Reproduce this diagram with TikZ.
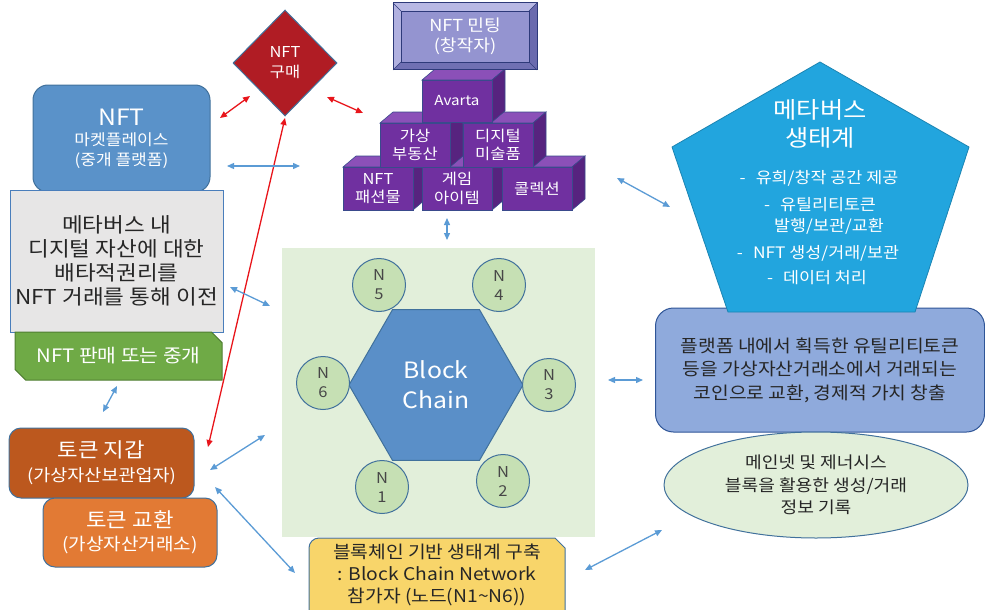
\documentclass[tikz,border=0pt]{standalone}
\usepackage{fontspec}
\setmainfont[FakeStretch=1.1]{Noto Sans CJK KR}
\usetikzlibrary{arrows.meta,shapes.geometric,shapes.misc}
\definecolor{arrblue}{HTML}{5B9BD5}
\definecolor{arrred}{HTML}{E8151B}
\definecolor{edgeblue}{HTML}{41719C}
\definecolor{mktblue}{HTML}{5A92C9}
\definecolor{grayfill}{HTML}{E7E6E6}
\definecolor{grayedge}{HTML}{4A7EBB}
\definecolor{greenfill}{HTML}{6FAA46}
\definecolor{greenedge}{HTML}{507E32}
\definecolor{walletfill}{HTML}{BC581E}
\definecolor{exchfill}{HTML}{E27A34}
\definecolor{pentfill}{HTML}{22A5DE}
\definecolor{platfill}{HTML}{8FAADC}
\definecolor{platedge}{HTML}{2F5597}
\definecolor{lightgreen}{HTML}{E2EFDA}
\definecolor{circfill}{HTML}{C6E0B4}
\definecolor{hexfill}{HTML}{5A8FC8}
\definecolor{yellowfill}{HTML}{F8D56A}
\definecolor{diamfill}{HTML}{B01C24}
\definecolor{cubefront}{HTML}{7030A0}
\definecolor{cubetop}{HTML}{8B50B8}
\definecolor{cubeside}{HTML}{57237F}
\definecolor{cubeedge}{HTML}{3A4A8C}
\definecolor{mintfill}{HTML}{9494D0}
\definecolor{mintlight}{HTML}{B8B8E4}
\definecolor{mintdark}{HTML}{6A6AAE}
\definecolor{mintedge}{HTML}{2E3A7A}
\definecolor{darktext}{HTML}{262626}
\newcommand{\fs}[2]{\fontsize{#1}{#2}\selectfont}
\newcommand{\mycube}[6]{%
  \filldraw[fill=cubetop,draw=cubeedge,line width=0.6pt] (#2,#3) -- ({#2+13},{#3-11}) -- ({#4+13},{#3-11}) -- (#4,#3) -- cycle;
  \filldraw[fill=cubeside,draw=cubeedge,line width=0.6pt] (#4,#3) -- ({#4+13},{#3-11}) -- ({#4+13},{#5-11}) -- (#4,#5) -- cycle;
  \node[cubebox, minimum width={#4-#2}, minimum height={#5-#3}] (#1) at ({(#2+#4)/2},{(#3+#5)/2}) {#6};
}
\begin{document}
\begin{tikzpicture}[x=1pt,y=-1pt,
  barrow/.style={draw=arrblue, line width=1.3pt, {Triangle[length=7pt,width=6pt]}-{Triangle[length=7pt,width=6pt]}},
  rarrow/.style={draw=arrred, line width=1.3pt, {Triangle[length=7pt,width=6pt]}-{Triangle[length=7pt,width=6pt]}},
  boxbase/.style={inner sep=0pt, align=center, line width=1pt},
  cubebox/.style={boxbase, fill=cubefront, draw=cubeedge, line width=0.6pt, text=white, font=\fs{15}{18.5}},
  nodecirc/.style={circle, fill=circfill, draw=edgeblue, line width=1pt, minimum size=53pt, inner sep=0pt, align=center, text=darktext!85, font=\fs{15}{19}},
  lbl/.style={inner sep=0pt, align=center}
]
\useasboundingbox (0,0) rectangle (985,610);

% background of network
\node[fill=lightgreen, minimum width=313pt, minimum height=289pt, inner sep=0pt] (bg) at (438.5,392.5) {};

% left column
\node[boxbase, fill=mktblue, draw=edgeblue, rounded corners=15pt, minimum width=177pt, minimum height=107pt, text=white, font=\fs{15.5}{20}] (mkt) at (121.5,138.5) {{\fs{22.5}{26}NFT}\\마켓플레이스\\(중개 플랫폼)};
\node[boxbase, fill=grayfill, draw=grayedge, minimum width=213pt, minimum height=142pt, text=darktext, font=\fs{20.5}{24}] (excl) at (116.5,261) {메타버스 내\\디지털 자산에 대한\\배타적권리를\\NFT 거래를 통해 이전};
\node[boxbase, chamfered rectangle, chamfered rectangle corners={north east,south west}, chamfered rectangle xsep=7pt, fill=greenfill, draw=greenedge, minimum width=207pt, minimum height=48pt, text=white, font=\fs{18.5}{22}] (sell) at (118.5,356) {NFT 판매 또는 중개};
\node[boxbase, fill=walletfill, draw=edgeblue, rounded corners=12pt, minimum width=185pt, minimum height=70pt, text=white, font=\fs{16.8}{24}] (wallet) at (101.5,463) {{\fs{20.3}{24}토큰 지갑}\\(가상자산보관업자)};
\node[boxbase, fill=exchfill, draw=edgeblue, rounded corners=12pt, minimum width=174pt, minimum height=69pt, text=white, font=\fs{17.3}{23}] (exch) at (130,532.5) {{\fs{20.3}{24}토큰 교환}\\(가상자산거래소)};

% diamond
\node[diamond, aspect=1, fill=diamfill, draw=edgeblue, line width=1pt, minimum width=104pt, minimum height=106pt, inner sep=0pt, align=center, text=white, font=\fs{15}{20}] (buy) at (285,63) {NFT\\구매};

% pyramid of cubes
\mycube{fashion}{343}{167}{413}{210}{NFT\\패션물}
\mycube{game}{422}{167}{492}{210}{게임\\아이템}
\mycube{coll}{502}{167}{572}{210}{콜렉션}
\mycube{realty}{380}{123}{450}{167}{가상\\부동산}
\mycube{art}{463}{123}{533}{167}{디지털\\미술품}
\mycube{avarta}{422}{80}{492}{122}{{\fs{13.8}{18}Avarta}}

% minting bevel box
\fill[mintlight] (393,3) -- (537,3) -- (529,11) -- (401,11) -- cycle;
\fill[mintlight!80!mintfill] (393,3) -- (401,11) -- (401,62) -- (393,70) -- cycle;
\fill[mintdark] (537,3) -- (537,70) -- (529,62) -- (529,11) -- cycle;
\fill[mintdark!85!mintfill] (393,70) -- (537,70) -- (529,62) -- (401,62) -- cycle;
\draw[mintedge, line width=0.6pt] (393,3) -- (401,11) (537,3) -- (529,11) (393,70) -- (401,62) (537,70) -- (529,62);
\node[boxbase, fill=mintfill, draw=mintedge, line width=0.6pt, minimum width=128pt, minimum height=51pt, text=white, font=\fs{16.5}{20}] (mint) at (465,36.5) {NFT 민팅\\(창작자)};
\draw[mintedge, line width=1pt] (393,3) rectangle (537,70);

% right side
\node[boxbase, fill=platfill, draw=platedge, rounded corners=18pt, minimum width=329pt, minimum height=124pt, text=darktext, font=\fs{17.5}{23.5}] (plat) at (820,370) {플랫폼 내에서 획득한 유틸리티토큰\\등을 가상자산거래소에서 거래되는\\코인으로 교환, 경제적 가치 창출};
\filldraw[fill=pentfill, draw=pentfill!80!black, line width=0.8pt] (820,62) -- (969,147) -- (915,312) -- (728,312) -- (672,147) -- cycle;
\node[lbl, text=white, font=\fs{23}{28}] (metatitle) at (820,124) {메타버스\\생태계};
\node[lbl, text=white, font=\fs{15.8}{18}] (m1) at (819,178) {-\hspace{10pt}유희/창작 공간 제공};
\node[lbl, text=white, font=\fs{15.8}{18}] (m2) at (820,205) {-\hspace{10pt}유틸리티토큰};
\node[lbl, text=white, font=\fs{15.8}{18}] (m3) at (829,226) {발행/보관/교환};
\node[lbl, text=white, font=\fs{15.8}{18}] (m4) at (818,253) {-\hspace{10pt}NFT 생성/거래/보관};
\node[lbl, text=white, font=\fs{15.8}{18}] (m5) at (817,278) {-\hspace{10pt}데이터 처리};
\node[ellipse, fill=lightgreen, draw=edgeblue, line width=1pt, minimum width=304pt, minimum height=106pt, inner sep=0pt, align=center, text=darktext, font=\fs{16.5}{22.5}] (main) at (816,485) {메인넷 및 제너시스\\블록을 활용한 생성/거래\\정보 기록};

% block chain network
\node[regular polygon, regular polygon sides=6, minimum size=174pt, inner sep=0pt, fill=hexfill, draw=edgeblue, line width=1pt, align=center, text=white, font=\fs{22.5}{30}] (bc) at (436,385) {Block\\Chain};
\node[nodecirc] (n5) at (379,285) {N\\5};
\node[nodecirc] (n4) at (499,285) {N\\4};
\node[nodecirc] (n6) at (323,383) {N\\6};
\node[nodecirc] (n3) at (549,385) {N\\3};
\node[nodecirc] (n1) at (382,487) {N\\1};
\node[nodecirc] (n2) at (503,481) {N\\2};

% yellow participant box
\filldraw[fill=yellowfill, draw=edgeblue, line width=1pt] (309,615) -- (309,548) arc[start angle=180, end angle=270, radius=10] -- (555,538) -- (565,548) -- (565,615);
\node[lbl, text=darktext, font=\fs{17.5}{22}] (yb) at (437,575) {블록체인 기반 생태계 구축\\: Block Chain Network\\참가자 (노드(N1\textasciitilde N6))};

% arrow end points
\coordinate (r1a) at (220,118); \coordinate (r1b) at (250,96);
\coordinate (r2a) at (327,97);  \coordinate (r2b) at (363,113);
\coordinate (r3a) at (208,447); \coordinate (r3b) at (285,118);
\coordinate (b1a) at (227,166); \coordinate (b1b) at (300,166);
\coordinate (b2a) at (230,287); \coordinate (b2b) at (270,306);
\coordinate (b3a) at (103,412); \coordinate (b3b) at (117,386);
\coordinate (b4a) at (210,470); \coordinate (b4b) at (265,435);
\coordinate (b5a) at (215,487); \coordinate (b5b) at (295,573);
\coordinate (b6a) at (447,218); \coordinate (b6b) at (447,240);
\coordinate (b7a) at (617,178); \coordinate (b7b) at (670,207);
\coordinate (b8a) at (608,380); \coordinate (b8b) at (643,380);
\coordinate (b9a) at (585,570); \coordinate (b9b) at (662,530);

\draw[rarrow] (r1a) -- (r1b);
\draw[rarrow] (r2a) -- (r2b);
\draw[rarrow] (r3a) -- (r3b);
\draw[barrow] (b1a) -- (b1b);
\draw[barrow] (b2a) -- (b2b);
\draw[barrow] (b3a) -- (b3b);
\draw[barrow] (b4a) -- (b4b);
\draw[barrow] (b5a) -- (b5b);
\draw[barrow] (b6a) -- (b6b);
\draw[barrow] (b7a) -- (b7b);
\draw[barrow] (b8a) -- (b8b);
\draw[barrow] (b9a) -- (b9b);
\end{tikzpicture}
\end{document}
